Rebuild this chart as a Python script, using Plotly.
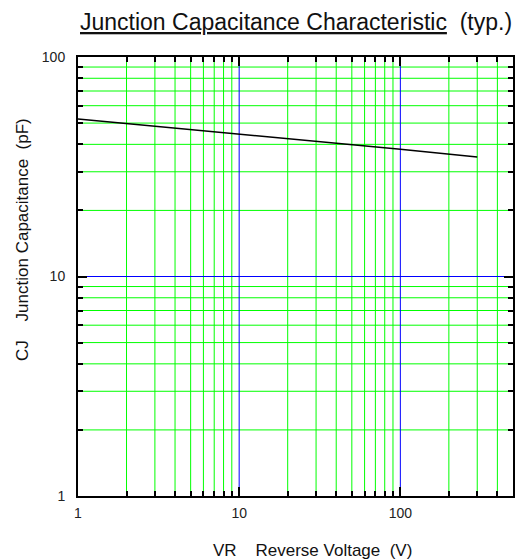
import plotly.graph_objects as go
import numpy as np

# Data
vr = [1, 10, 100, 300]
cj = [52.2, 44.6, 38.0, 35.0]

x_major = [1, 10, 100]
x_major_labels = ["1", "10", "100"]
x_minor = [2, 3, 4, 5, 6, 7, 8, 9, 20, 30, 40, 50, 60, 70, 80, 90, 200, 300, 400]
x_decade_grid = [10, 100]
y_major = [1, 10, 100]
y_major_labels = ["1", "10", "100"]
y_minor = [2, 3, 4, 5, 6, 7, 8, 9, 20, 30, 40, 50, 60, 70, 80, 90]
y_decade_grid = [10]

x_range = [1, 500]
y_range = [1, 100]

FONT = "Liberation Sans, Arial, sans-serif"


def vlines(vals):
    xs, ys = [], []
    for v in vals:
        xs += [v, v, None]
        ys += [y_range[0], y_range[1], None]
    return xs, ys


def hlines(vals):
    xs, ys = [], []
    for v in vals:
        xs += [x_range[0], x_range[1], None]
        ys += [v, v, None]
    return xs, ys


fig = go.Figure()
for fn, vals, col in [(vlines, x_minor, "#00ff00"), (hlines, y_minor, "#00ff00"),
                      (vlines, x_decade_grid, "#0000ff"), (hlines, y_decade_grid, "#0000ff")]:
    gx, gy = fn(vals)
    fig.add_trace(go.Scatter(x=gx, y=gy, mode="lines", line=dict(color=col, width=1),
                             showlegend=False, hoverinfo="skip"))

fig.add_trace(go.Scatter(x=vr, y=cj, mode="lines",
                         line=dict(color="black", width=1.5),
                         showlegend=False, hoverinfo="skip"))
# invisible trace so the decade overlay axes are drawn
fig.add_trace(go.Scatter(x=vr, y=cj, mode="lines", xaxis="x2", yaxis="y2",
                         line=dict(color="rgba(0,0,0,0)", width=0),
                         showlegend=False, hoverinfo="skip"))

xr = [np.log10(x_range[0]), np.log10(x_range[1])]
yr = [np.log10(y_range[0]), np.log10(y_range[1])]

base = dict(
    type="log",
    showline=True, linecolor="black", linewidth=2, mirror="ticks",
    ticks="inside", ticklen=5, tickwidth=1.5, tickcolor="black",
    showgrid=False, zeroline=False, tickmode="array", showticklabels=False,
)
dec = dict(
    type="log",
    showline=True, linecolor="black", linewidth=2, mirror="ticks",
    ticks="inside", ticklen=9, tickwidth=2, tickcolor="black",
    showgrid=False, zeroline=False, tickmode="array",
    tickfont=dict(family=FONT, size=14, color="#222"),
)

fig.update_layout(
    template="none",
    xaxis=dict(**base, range=xr, tickvals=x_minor),
    yaxis=dict(**base, range=yr, tickvals=y_minor),
    xaxis2=dict(**dec, range=xr, tickvals=x_major, ticktext=x_major_labels,
                overlaying="x", anchor="y2", side="bottom", ticklabelstandoff=3),
    yaxis2=dict(**dec, range=yr, tickvals=y_major, ticktext=y_major_labels,
                overlaying="y", anchor="x2", side="left", ticklabelstandoff=8),
)

fig.add_annotation(
    text="<u>Junction Capacitance Characteristic</u>  (typ.)",
    xref="paper", yref="paper", x=0.501, y=1, yshift=35,
    xanchor="center", yanchor="middle", showarrow=False,
    font=dict(family=FONT, size=23, color="#111"),
)
fig.add_annotation(
    text="VR    Reverse Voltage  (V)",
    xref="paper", yref="paper", x=0.54, y=0, yshift=-54,
    xanchor="center", yanchor="middle", showarrow=False,
    font=dict(family=FONT, size=17, color="#111"),
)
fig.add_annotation(
    text="CJ    Junction Capacitance  (pF)",
    xref="paper", yref="paper", x=0, y=0.583, xshift=-56,
    xanchor="center", yanchor="middle", textangle=-90, showarrow=False,
    font=dict(family=FONT, size=17, color="#111"),
)

fig.update_layout(
    width=518, height=552,
    margin=dict(l=70, r=13, t=49, b=64),
    paper_bgcolor="white", plot_bgcolor="white",
)

fig.write_html("out.html")
